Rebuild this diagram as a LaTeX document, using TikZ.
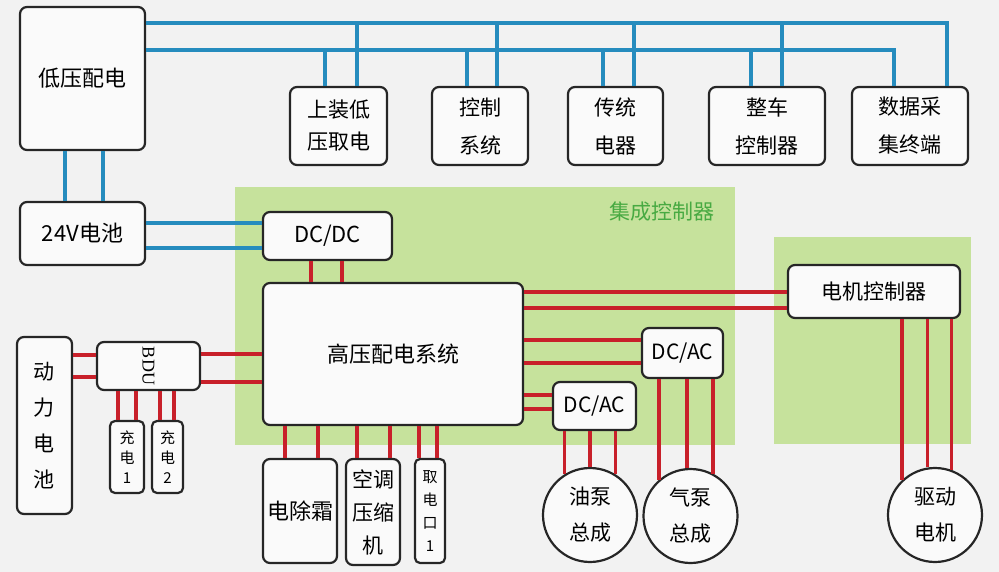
\documentclass[tikz,border=0pt]{standalone}
\usepackage{fontspec}
\setmainfont{Noto Sans CJK SC}
\newfontfamily\bdufont{Liberation Serif}

\definecolor{lvblue}{RGB}{38,140,190}
\definecolor{hvred}{RGB}{200,32,42}
\definecolor{grpgreen}{RGB}{198,226,156}
\definecolor{lblgreen}{RGB}{72,170,66}
\definecolor{pagegray}{RGB}{242,242,242}
\definecolor{boxfill}{RGB}{250,250,250}

\tikzset{
  box/.style={draw=black!85, line width=2.2pt, rounded corners=7pt, fill=boxfill,
    inner sep=0pt, align=center, font=\fontsize{21}{38}\selectfont},
  load/.style={box, circle, minimum size=94pt, font=\fontsize{21}{36}\selectfont},
  lvline/.style={draw=lvblue, line width=3.5pt},
  hvline/.style={draw=hvred, line width=3.5pt},
  grp/.style={fill=grpgreen}
}

\begin{document}
\begin{tikzpicture}[x=1pt, y=-1pt]
   \useasboundingbox (0,0) rectangle (999,572);
   \fill[pagegray] (0,0) rectangle (999,572);
   \fill[grp] (235,187) rectangle (735,445);
   \fill[grp] (774,237) rectangle (971,444);
   \node (ictl) [text=lblgreen, font=\fontsize{21}{21}\selectfont] at (662,212) {集成控制器};

   \node (lv) [box, minimum width=125pt, minimum height=143pt, font=\fontsize{22}{22}\selectfont] at (82.5,78.5) {低压配电};
   \node (up1) [box, minimum width=97pt, minimum height=78pt, font=\fontsize{21}{32}\selectfont] at (338.5,126) {上装低\\压取电};
   \node (up2) [box, minimum width=96pt, minimum height=78pt] at (480,126) {控制\\系统};
   \node (up3) [box, minimum width=95pt, minimum height=78pt] at (615.5,126) {传统\\电器};
   \node (up4) [box, minimum width=116pt, minimum height=78pt] at (767,126) {整车\\控制器};
   \node (up5) [box, minimum width=116pt, minimum height=78pt] at (910,126) {数据采\\集终端};
   \node (bat24) [box, minimum width=125pt, minimum height=63pt, font=\fontsize{22}{22}\selectfont] at (82.5,233.5) {24V电池};
   \node (dcdc) [box, minimum width=129pt, minimum height=48pt, font=\fontsize{22}{22}\selectfont] at (327.5,236) {DC/DC};
   \node (hv) [box, minimum width=260pt, minimum height=142pt, font=\fontsize{22}{22}\selectfont] at (393,354) {高压配电系统};
   \node (mc) [box, minimum width=172pt, minimum height=53pt] at (874,291.5) {电机控制器};
   \node (dcac1) [box, minimum width=81pt, minimum height=50pt] at (682.5,353) {DC/AC};
   \node (dcac2) [box, minimum width=83pt, minimum height=48pt] at (594.5,406) {DC/AC};
   \node (pbat) [box, minimum width=55pt, minimum height=177pt, font=\fontsize{21}{36}\selectfont] at (44.5,425.5) {动\\力\\电\\池};
   \node (bdu) [box, minimum width=103pt, minimum height=48pt] at (148.5,366) {\bdufont\fontsize{18}{18}\selectfont\rotatebox{-90}{BDU}};
   \node (chg1) [box, rounded corners=5pt, minimum width=34pt, minimum height=72pt, font=\fontsize{15}{20}\selectfont] at (127,457) {充\\电\\1};
   \node (chg2) [box, rounded corners=5pt, minimum width=31pt, minimum height=72pt, font=\fontsize{15}{20}\selectfont] at (167.5,457) {充\\电\\2};
   \node (dfr) [box, minimum width=74pt, minimum height=104pt, font=\fontsize{22}{22}\selectfont] at (300,511) {电除霜};
   \node (ac) [box, minimum width=54pt, minimum height=106pt, font=\fontsize{21}{33}\selectfont] at (373,512) {空调\\压缩\\机};
   \node (port) [box, rounded corners=5pt, minimum width=30pt, minimum height=104pt, font=\fontsize{15}{23}\selectfont] at (430,511) {取\\电\\口\\1};
   \node (oil) [load] at (590,515) {油泵\\总成};
   \node (air) [load] at (690.5,516) {气泵\\总成};
   \node (motor) [load] at (935,515) {驱动\\电机};

   \coordinate (bus1) at (947,23);
   \coordinate (bus2) at (894,50);
   \draw[lvline] (lv.east |- bus1) -- (bus1) -- (up5.north -| bus1);
   \draw[lvline] (lv.east |- bus2) -- (bus2) -- (up5.north -| bus2);
   \foreach \n/\a/\b in {up1/325/357, up2/467/497, up3/603/634, up4/751/782}
     \path[lvline] (\n.north -| \a,0) edge (bus2 -| \a,0)
                   (\n.north -| \b,0) edge (bus1 -| \b,0);
   \path[lvline]
     (lv.south -| 65,0)    edge (bat24.north -| 65,0)
     (lv.south -| 103,0)   edge (bat24.north -| 103,0)
     (bat24.east |- 0,223) edge (dcdc.west |- 0,223)
     (bat24.east |- 0,248) edge (dcdc.west |- 0,248);

   \foreach \a/\b/\y in {hv/mc/292, hv/mc/308, hv/dcac1/340, hv/dcac1/363, hv/dcac2/395,
                         hv/dcac2/409, pbat/bdu/355, pbat/bdu/377, bdu/hv/354, bdu/hv/382}
     \path[hvline] (\a.east |- 0,\y) edge (\b.west |- 0,\y);
   \foreach \a/\b/\x in {dcdc/hv/311, dcdc/hv/342, bdu/chg1/118, bdu/chg1/136, bdu/chg2/160,
                         bdu/chg2/174, hv/dfr/285, hv/dfr/318, hv/ac/357, hv/ac/390,
                         hv/port/419, hv/port/437}
     \path[hvline] (\a.south -| \x,0) edge (\b.north -| \x,0);
   \foreach \a/\b/\t in {dcac2/oil/122, dcac2/oil/90, dcac2/oil/58, dcac1/air/131, dcac1/air/94,
                         dcac1/air/62, mc/motor/133, mc/motor/99, mc/motor/70}
     \path[hvline] (\a.south -| \b.\t) edge (\b.\t);
  \end{tikzpicture}
\end{document}
